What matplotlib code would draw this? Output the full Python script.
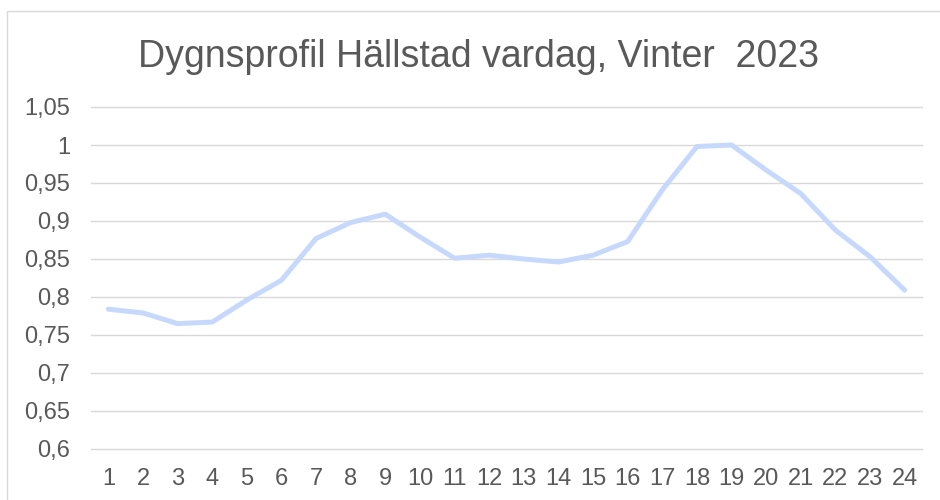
import matplotlib
matplotlib.use("Agg")
import matplotlib.pyplot as plt
from matplotlib.patches import Rectangle
from matplotlib.ticker import FixedLocator, FuncFormatter

hours = list(range(1, 25))
values = [0.784, 0.779, 0.765, 0.767, 0.796, 0.822, 0.877, 0.898, 0.909, 0.879,
          0.851, 0.855, 0.850, 0.846, 0.855, 0.873, 0.941, 0.998, 1.000, 0.967,
          0.936, 0.888, 0.853, 0.809]
y_ticks = [0.6, 0.65, 0.7, 0.75, 0.8, 0.85, 0.9, 0.95, 1.0, 1.05]
title = "Dygnsprofil Hällstad vardag, Vinter  2023"

plt.rcParams['font.family'] = ['Liberation Sans', 'DejaVu Sans']
fig = plt.figure(figsize=(9.4, 5.0), dpi=100)
fig.patches.append(Rectangle((6.5/940, -0.1), 1.2, 1.1 - 11.5/500,
                             transform=fig.transFigure, fill=False,
                             edgecolor='#D9D9D9', linewidth=1.0))
ax = fig.add_axes([91/940, 51/500, 831/940, 342/500])
ax.plot(hours, values, color='#C6D9FC', linewidth=3.6, solid_capstyle='round',
        solid_joinstyle='round')
ax.set_xlim(0.5, 24.5)
ax.set_ylim(0.6, 1.05)
ax.yaxis.set_major_locator(FixedLocator(y_ticks))
ax.yaxis.set_major_formatter(FuncFormatter(lambda v, p: ('%g' % round(v, 2)).replace('.', ',')))
ax.set_xticks(hours)
ax.set_xticklabels([str(h) for h in hours])
ax.grid(axis='y', color='#D9D9D9', linewidth=1.0)
for gl in ax.get_ygridlines():
    gl.set_clip_on(False)
ax.set_axisbelow(True)
for s in ax.spines.values():
    s.set_visible(False)
ax.tick_params(axis='both', length=0, labelsize=17, labelcolor='#595959')
ax.tick_params(axis='y', pad=15)
ax.tick_params(axis='x', pad=14)
fig.text(478/940, 1 - 67/500, title, ha='center', va='baseline', fontsize=27, color='#595959')
fig.savefig('out.png', dpi=100)
